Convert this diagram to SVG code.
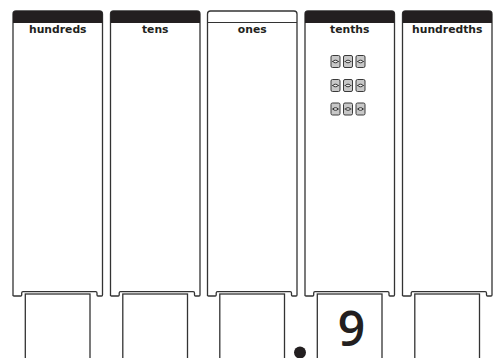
<svg xmlns="http://www.w3.org/2000/svg" width="497" height="358" viewBox="0 0 497 358">
<defs>
<style>
.col{fill:#fff;stroke:#333;stroke-width:1.3}
.hdr{fill:#231f20}
.hline{stroke:#333;stroke-width:1.2}
.lbl{font-family:"DejaVu Sans",sans-serif;font-weight:bold;font-size:10.8px;fill:#231f20;text-anchor:middle}
.box{fill:#fff;stroke:#333;stroke-width:1.3}
.dom{fill:#c8c8c8;stroke:#3a3a3a;stroke-width:1}
.digit{font-family:"Open Sans","Liberation Sans",sans-serif;font-weight:600;font-size:48px;fill:#231f20;text-anchor:middle}
</style>
<path id="colshape" d="M0,296 V14 Q0,11 3,11 H86.5 Q89.5,11 89.5,14 V295 Q89.5,296 88.5,296 H85 Q84,296 84,295 V293 Q84,291.7 82.7,291.7 H10 Q8.7,291.7 8.7,293 V295 Q8.7,296 7.7,296 H1 Q0,296 0,295 Z"/>
<clipPath id="hclip"><rect x="0" y="0" width="90" height="23"/></clipPath>
<g id="domino">
<rect class="dom" x="0" y="0" width="9" height="12" rx="1.5"/>
<line x1="1" y1="6" x2="8" y2="6" stroke="#333" stroke-width="0.8"/>
<ellipse cx="4.5" cy="6" rx="2.3" ry="1.3" fill="#eee" stroke="#222" stroke-width="0.9"/>
</g>
</defs>
<rect width="497" height="358" fill="#fff"/>

<g id="hundreds">
<use href="#colshape" class="col" x="13"/>
<g transform="translate(13,0)"><use href="#colshape" class="hdr" clip-path="url(#hclip)"/></g>
<text class="lbl" x="57.75" y="33.3">hundreds</text>
<rect class="box" x="25.3" y="294" width="64.7" height="70"/>
</g>

<g id="tens">
<use href="#colshape" class="col" x="110.5"/>
<g transform="translate(110.5,0)"><use href="#colshape" class="hdr" clip-path="url(#hclip)"/></g>
<text class="lbl" x="155.25" y="33.3">tens</text>
<rect class="box" x="122.8" y="294" width="64.7" height="70"/>
</g>

<g id="ones">
<use href="#colshape" class="col" x="207.5"/>
<line class="hline" x1="207.5" y1="22.5" x2="297" y2="22.5"/>
<text class="lbl" x="252.25" y="33.3">ones</text>
<rect class="box" x="219.8" y="294" width="64.7" height="70"/>
</g>

<g id="tenths">
<use href="#colshape" class="col" x="305"/>
<g transform="translate(305,0)"><use href="#colshape" class="hdr" clip-path="url(#hclip)"/></g>
<text class="lbl" x="349.75" y="33.3">tenths</text>
<use href="#domino" x="331" y="55.5"/>
<use href="#domino" x="343.5" y="55.5"/>
<use href="#domino" x="356" y="55.5"/>
<use href="#domino" x="331" y="79.5"/>
<use href="#domino" x="343.5" y="79.5"/>
<use href="#domino" x="356" y="79.5"/>
<use href="#domino" x="331" y="103"/>
<use href="#domino" x="343.5" y="103"/>
<use href="#domino" x="356" y="103"/>
<rect class="box" x="317.3" y="294" width="64.7" height="70"/>
<text class="digit" x="351.5" y="345.5">9</text>
</g>

<g id="hundredths">
<use href="#colshape" class="col" x="402.5"/>
<g transform="translate(402.5,0)"><use href="#colshape" class="hdr" clip-path="url(#hclip)"/></g>
<text class="lbl" x="447.25" y="33.3">hundredths</text>
<rect class="box" x="414.8" y="294" width="64.7" height="70"/>
</g>

<g id="decimal-point">
<circle cx="300" cy="352.5" r="6" fill="#231f20"/>
</g>
<g id="connectors"/>
</svg>
